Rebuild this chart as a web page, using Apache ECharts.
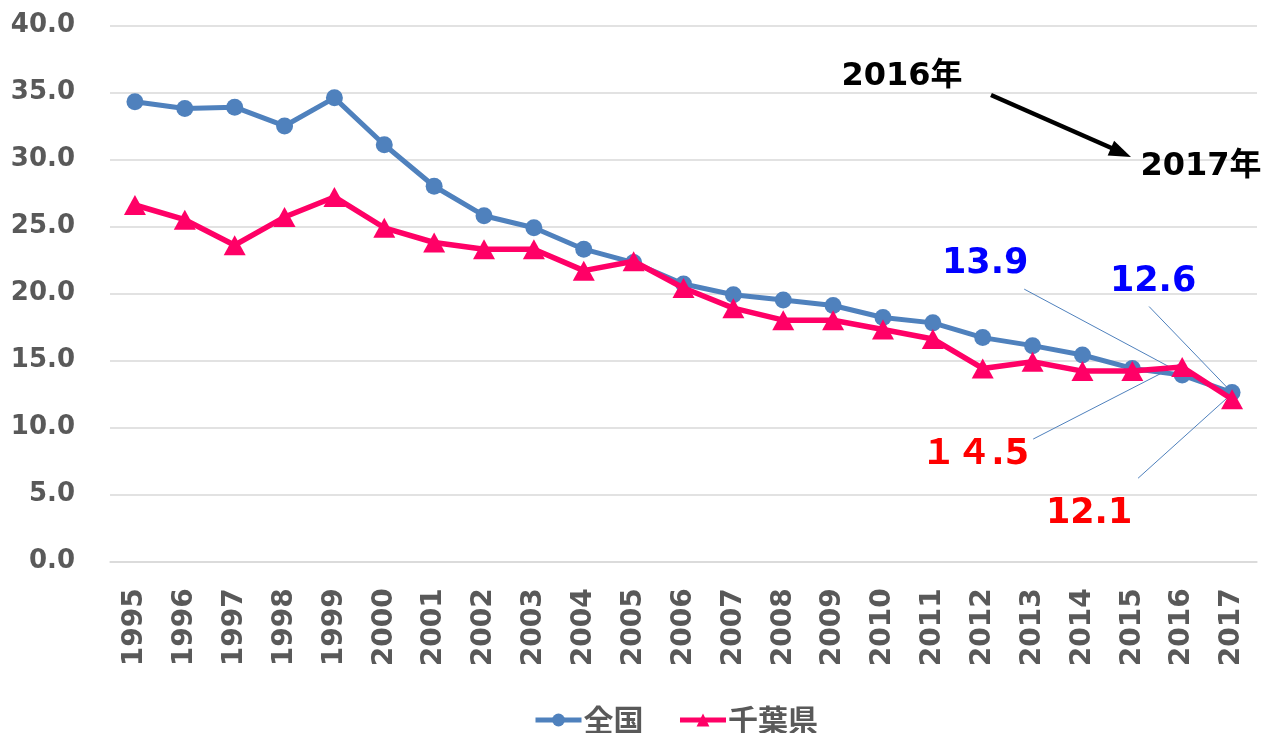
<!DOCTYPE html>
<html>
<head>
<meta charset="utf-8">
<script src="https://cdn.jsdelivr.net/npm/echarts@6/dist/echarts.min.js"></script>
<style>
html,body{margin:0;padding:0;background:#fff;}
#chart{width:1267px;height:733px;}
</style>
</head>
<body>
<div id="chart"></div>
<script>
const categories = ['1995','1996','1997','1998','1999','2000','2001','2002','2003','2004','2005','2006','2007','2008','2009','2010','2011','2012','2013','2014','2015','2016','2017'];
const national = [34.3,33.8,33.9,32.5,34.6,31.1,28.0,25.8,24.9,23.3,22.3,20.7,19.9,19.5,19.1,18.2,17.8,16.7,16.1,15.4,14.4,13.9,12.6];
const chiba = [26.6,25.5,23.6,25.7,27.2,24.9,23.8,23.3,23.3,21.7,22.4,20.4,18.9,18.0,18.0,17.3,16.6,14.4,14.9,14.2,14.2,14.5,12.1];
const seriesNames = ['全国','千葉県'];
const yTicks = {min:0, max:40, interval:5};
const calloutNational = [{idx:21, text:'13.9'}, {idx:22, text:'12.6'}];
const calloutChiba = [{idx:21, text:'１４.5'}, {idx:22, text:'12.1'}];
const yearNotes = ['2016年','2017年'];

const BLUE = '#4F81BD', RED = '#FF0066', GRAY = '#595959';
const chart = echarts.init(document.getElementById('chart'));
const numFont = '"DejaVu Sans", "Noto Sans CJK JP", sans-serif';

const option = {
  animation:false,
  backgroundColor:'#fff',
  grid:{left:110, right:10, top:25.5, bottom:171.7},
  legend:{
    top:700, left:528,
    data:seriesNames,
    itemWidth:46, itemHeight:16, itemGap:34,
    lineStyle:{width:5},
    textStyle:{fontSize:30, fontWeight:'bold', color:GRAY, fontFamily:'"Noto Sans CJK JP", sans-serif', padding:[0,0,0,-3]}
  },
  xAxis:{
    type:'category', data:categories, boundaryGap:true,
    axisLine:{show:true, lineStyle:{color:'#D9D9D9', width:1.5}},
    axisTick:{show:false},
    axisLabel:{rotate:90, margin:27, fontSize:28, fontWeight:'bold', color:GRAY, fontFamily:numFont, interval:0}
  },
  yAxis:{
    type:'value', min:yTicks.min, max:yTicks.max, interval:yTicks.interval,
    axisLine:{show:false}, axisTick:{show:false},
    splitLine:{lineStyle:{color:'#D9D9D9', width:1.5}},
    axisLabel:{margin:35, fontSize:26, fontWeight:'bold', color:GRAY, fontFamily:numFont,
      formatter:v=>v.toFixed(1)}
  },
  series:[
    {name:seriesNames[0], type:'line', data:national, symbol:'circle', symbolSize:17,
     lineStyle:{color:BLUE, width:5}, itemStyle:{color:BLUE}, z:2},
    {name:seriesNames[1], type:'line', data:chiba, symbol:'triangle', symbolSize:[22,20],
     lineStyle:{color:RED, width:5.5}, itemStyle:{color:RED}, z:3}
  ]
};
chart.setOption(option);

function px(seriesIdx, idx){
  const vals = seriesIdx===0 ? national : chiba;
  return chart.convertToPixel({gridIndex:0}, [categories[idx], vals[idx]]);
}
// label positions (offsets relative to the data point) and leader line start offsets
const calloutLayout = [
  {s:0, c:calloutNational[0], label:[-197,-111], lead:[-158,-86], color:'#0000FF'},
  {s:0, c:calloutNational[1], label:[-79,-111], lead:[-83,-86], color:'#0000FF'},
  {s:1, c:calloutChiba[0], label:[-207,88], lead:[-149,72], color:'#FF0000'},
  {s:1, c:calloutChiba[1], label:[-143,115], lead:[-94,79], color:'#FF0000'}
];
const graphics = [];
calloutLayout.forEach(o=>{
  const p = px(o.s, o.c.idx);
  graphics.push({type:'line', z:1, shape:{x1:p[0]+o.lead[0], y1:p[1]+o.lead[1], x2:p[0]-3, y2:p[1]-3},
    style:{stroke:BLUE, lineWidth:1}});
  graphics.push({type:'text', z:10, x:p[0]+o.label[0], y:p[1]+o.label[1],
    style:{text:o.c.text, fill:o.color, font:'bold 35px ' + numFont, textAlign:'center', textVerticalAlign:'middle'}});
});
graphics.push({type:'text', z:10, x:902, y:77,
  style:{text:yearNotes[0], fill:'#000', font:'bold 32px ' + numFont, textAlign:'center', textVerticalAlign:'middle'}});
graphics.push({type:'text', z:10, x:1201, y:167,
  style:{text:yearNotes[1], fill:'#000', font:'bold 32px ' + numFont, textAlign:'center', textVerticalAlign:'middle'}});
// arrow
graphics.push({type:'line', z:10, shape:{x1:991, y1:95, x2:1116, y2:150}, style:{stroke:'#000', lineWidth:4.5}});
(function(){
  const x1=991,y1=95,x2=1131,y2=157;
  const ang=Math.atan2(y2-y1,x2-x1), L=22, W=8;
  const bx=x2-L*Math.cos(ang), by=y2-L*Math.sin(ang);
  const nx=-Math.sin(ang), ny=Math.cos(ang);
  graphics.push({type:'polygon', z:10, shape:{points:[[x2,y2],[bx+nx*W,by+ny*W],[bx-nx*W,by-ny*W]]}, style:{fill:'#000'}});
})();
chart.setOption({graphic:graphics});
</script>
</body>
</html>
